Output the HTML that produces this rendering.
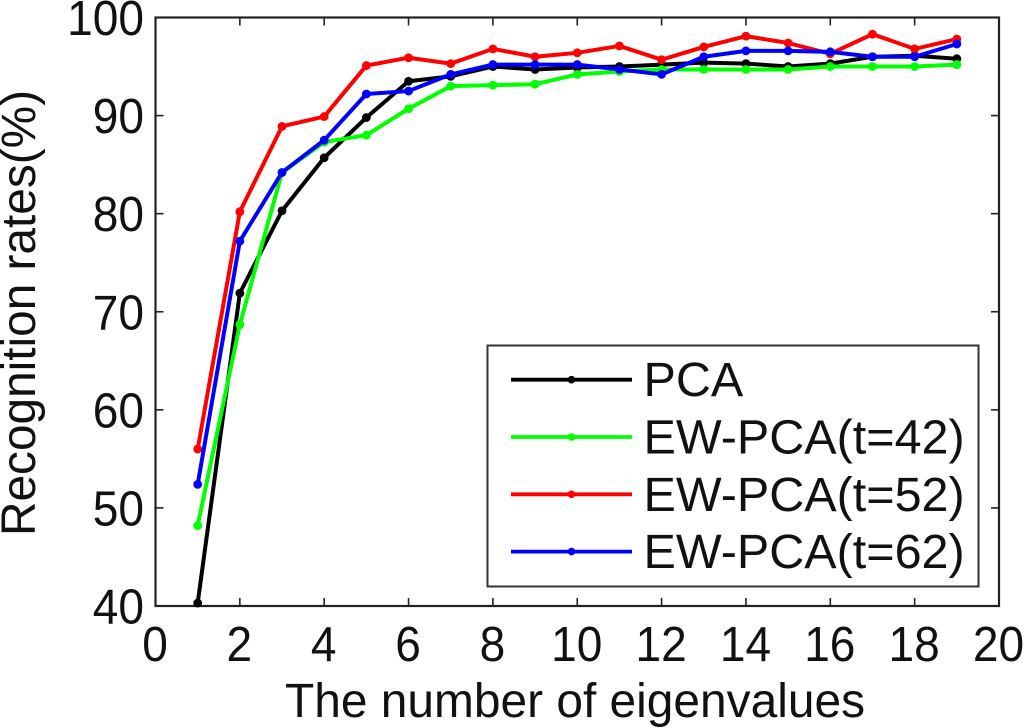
<!DOCTYPE html>
<html>
<head>
<meta charset="utf-8">
<title>Recognition rates chart</title>
<style>
html,body{margin:0;padding:0;background:#fff;width:1024px;height:728px;overflow:hidden}
svg{display:block}
text{font-family:"Liberation Sans",sans-serif;fill:#111}
</style>
</head>
<body>
<svg id="chart" width="1024" height="728" viewBox="0 0 1024 728" xmlns="http://www.w3.org/2000/svg"></svg>
<script>
const categories = [1,2,3,4,5,6,7,8,9,10,11,12,13,14,15,16,17,18,19];
const seriesNames = ["PCA","EW-PCA(t=42)","EW-PCA(t=52)","EW-PCA(t=62)"];
const seriesColors = ["#000000","#00ff00","#ff0000","#0000ff"];
const pcaValues = [40.3,71.9,80.3,85.7,89.8,93.5,94.0,95.0,94.7,94.9,95.0,95.2,95.4,95.3,95.0,95.3,96.0,96.1,95.8];
const ew42Values = [48.2,68.7,84.2,87.3,88.0,90.7,93.0,93.1,93.2,94.2,94.5,94.7,94.7,94.7,94.7,95.0,95.0,95.0,95.2];
const ew52Values = [56.0,80.2,88.9,89.9,95.1,95.9,95.3,96.8,96.0,96.4,97.1,95.7,97.0,98.1,97.4,96.3,98.3,96.8,97.8];
const ew62Values = [52.4,77.2,84.2,87.5,92.2,92.5,94.2,95.2,95.2,95.2,94.7,94.2,96.0,96.6,96.6,96.5,96.0,96.0,97.3];
const xTickLabels = [0,2,4,6,8,10,12,14,16,18,20];
const yTickLabels = [40,50,60,70,80,90,100];
const allSeries = [pcaValues, ew42Values, ew52Values, ew62Values];

const NS = "http://www.w3.org/2000/svg";
const svg = document.getElementById("chart");
const L = 155.5, R = 999, T = 17.5, B = 606;
const X = v => L + (v - 0) / (20 - 0) * (R - L);
const Y = v => B - (v - 40) / (100 - 40) * (B - T);

function make(tag, attrs, parent) {
  const el = document.createElementNS(NS, tag);
  for (const k in attrs) el.setAttribute(k, attrs[k]);
  (parent || svg).appendChild(el);
  return el;
}

const axisColor = "#222";

// tick marks and labels
xTickLabels.forEach(v => {
  const bottomTick = make("line", {x1:X(v), x2:X(v), y1:B, y2:B-8, stroke:axisColor, "stroke-width":1.6});
  
  
  const topTick = make("line", {x1:X(v), x2:X(v), y1:T, y2:T+8, stroke:axisColor, "stroke-width":1.6});
  
  
  const label = make("text", {"text-anchor":"middle", "font-size":49, transform:"translate(" + (X(v)-0.5) + ",661) scale(0.94,1)"});
  label.textContent = v;
  
  
});
yTickLabels.forEach(v => {
  const leftTick = make("line", {x1:L, x2:L+8, y1:Y(v), y2:Y(v), stroke:axisColor, "stroke-width":1.6});
  
  
  const rightTick = make("line", {x1:R, x2:R-8, y1:Y(v), y2:Y(v), stroke:axisColor, "stroke-width":1.6});
  
  
  const label = make("text", {"text-anchor":"end", "font-size":49, transform:"translate(144," + (Y(v)+17.5) + ") scale(0.94,1)"});
  label.textContent = v;
  
  
});

// plot frame
const frame = make("rect", {x:L, y:T, width:R-L, height:B-T, fill:"none", stroke:axisColor, "stroke-width":2.2});



// series
allSeries.forEach((vals, i) => {
  const g = make("g", {});
  
  
  const pts = vals.map((v, j) => X(categories[j]) + "," + Y(v)).join(" ");
  const line = make("polyline", {points:pts, fill:"none", stroke:seriesColors[i], "stroke-width":4, "stroke-linejoin":"round"}, g);
  
  
  vals.forEach((v, j) => {
    const pt = make("circle", {cx:X(categories[j]), cy:Y(v), r:4.4, fill:seriesColors[i]}, g);
    
    
  });
});

// axis titles
const xTitle = make("text", {x:575, y:717, "text-anchor":"middle", "font-size":48, textLength:580, lengthAdjust:"spacingAndGlyphs"});
xTitle.textContent = "The number of eigenvalues";


const yTitle = make("text", {x:0, y:0, "text-anchor":"middle", "font-size":48, textLength:446, lengthAdjust:"spacingAndGlyphs", transform:"translate(35,313) rotate(-90)"});
yTitle.textContent = "Recognition rates(%)";



// legend
const legend = make("g", {});


const legendBox = make("rect", {x:487.5, y:345.5, width:491, height:241, fill:"#fff", stroke:"#333", "stroke-width":2}, legend);


seriesNames.forEach((name, i) => {
  const cy = 379.7 + i * 57.3;
  const entry = make("g", {}, legend);
  
  
  make("line", {x1:511, x2:632, y1:cy, y2:cy, stroke:seriesColors[i], "stroke-width":3.8}, entry);
  make("circle", {cx:571.5, cy:cy, r:3.8, fill:seriesColors[i]}, entry);
  const t = make("text", {x:643.5, y:cy+16.5, "font-size":48.5}, entry);
  t.textContent = name;
});
</script>
</body>
</html>
